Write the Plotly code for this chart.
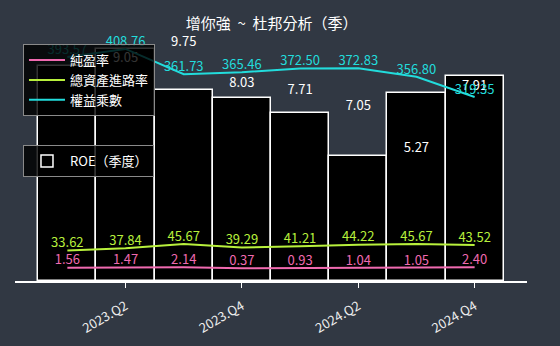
import plotly.graph_objects as go

quarters = ["2023.Q1", "2023.Q2", "2023.Q3", "2023.Q4", "2024.Q1", "2024.Q2", "2024.Q3", "2024.Q4"]
roe = [9.05, 9.75, 8.03, 7.71, 7.05, 5.27, 7.91, 8.60]
net_margin = [1.56, 1.47, 2.14, 0.37, 0.93, 1.04, 1.05, 2.40]
asset_turnover = [33.62, 37.84, 45.67, 39.29, 41.21, 44.22, 45.67, 43.52]
equity_multiplier = [393.57, 408.76, 361.73, 365.46, 372.50, 372.83, 356.80, 319.35]

title = "增你強 ~ 杜邦分析（季）"
names = ["純盈率", "總資產進路率", "權益乘數"]
bar_name = "ROE（季度）"

PINK = "#f06ab0"
GREEN = "#b8f03c"
CYAN = "#22dcdc"
BG = "#313843"
FONT = "Noto Sans CJK TC"

idx = list(range(len(quarters)))
fig = go.Figure()

fig.add_trace(go.Bar(
    x=idx, y=roe, name=bar_name, width=1.0,
    marker=dict(color="black", line=dict(color="white", width=1.5)),
    legend="legend2", yaxis="y",
))

for vals, nm, col in [(net_margin, names[0], PINK), (asset_turnover, names[1], GREEN),
                      (equity_multiplier, names[2], CYAN)]:
    fig.add_trace(go.Scatter(
        x=idx, y=vals, name=nm, mode="lines", line=dict(color=col, width=2),
        yaxis="y2", legend="legend",
    ))
    fig.add_trace(go.Scatter(
        x=idx, y=vals, mode="text", text=[f"{v:.2f}" for v in vals],
        textposition="top center", textfont=dict(color=col, size=13, family=FONT),
        yaxis="y2", showlegend=False, cliponaxis=False, hoverinfo="skip",
    ))

# ROE value labels (shifted one quarter to the right, as in the reference)
fig.add_trace(go.Scatter(
    x=[i + 1 for i in idx], y=roe, mode="text", text=[f"{v:.2f}" for v in roe],
    textposition="top center", textfont=dict(color="white", size=13, family=FONT),
    yaxis="y", showlegend=False, cliponaxis=False, hoverinfo="skip",
))

fig.update_layout(
    width=560, height=346,
    margin=dict(l=15, r=33, t=30, b=65),
    paper_bgcolor=BG, plot_bgcolor=BG,
    font=dict(family=FONT, color="white", size=13),
    title=dict(text=title.replace("~", " ~ "), x=0.485, xanchor="center", y=1 - 24 / 346,
               yanchor="middle", font=dict(size=15, color="white", family=FONT)),
    bargap=0,
    xaxis=dict(range=[-0.9, 7.9], tickvals=idx[1::2], ticktext=quarters[1::2],
               tickangle=-30, showgrid=False, zeroline=False, automargin=False,
               showline=True, linecolor="white", linewidth=1.5,
               ticks="outside", ticklen=5, tickcolor="white", ticklabelstandoff=6,
               tickfont=dict(size=13, color="#eeeeee", family=FONT)),
    yaxis=dict(range=[0, 10.55], visible=False, showgrid=False, automargin=False),
    yaxis2=dict(range=[-23.3, 444], overlaying="y", visible=False, showgrid=False,
                automargin=False),
    legend=dict(x=0.0156, y=0.944, xanchor="left", yanchor="top", itemwidth=36,
                bgcolor="rgba(0,0,0,0.8)", bordercolor="#8a8a8a", borderwidth=1,
                font=dict(size=13, color="white", family=FONT)),
    legend2=dict(x=0.0156, y=0.542, xanchor="left", yanchor="top", itemwidth=36,
                 bgcolor="rgba(0,0,0,0.8)", bordercolor="#8a8a8a", borderwidth=1,
                 font=dict(size=13, color="white", family=FONT)),
    showlegend=True,
)

fig.write_html("out.html")
